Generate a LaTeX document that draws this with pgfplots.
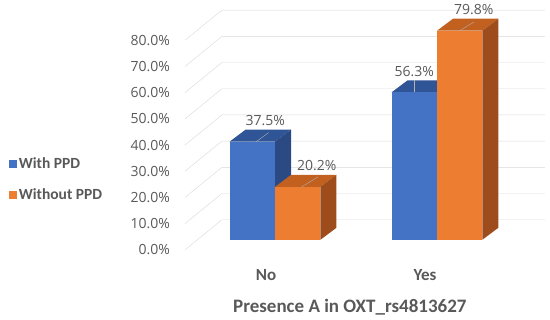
\documentclass[border=0pt]{standalone}
\usepackage{fontspec}
\setmainfont{Carlito}
\newfontfamily\osans{Open Sans}
\usepackage{pgfplots}
\pgfplotsset{compat=1.18}
\definecolor{bfront}{HTML}{4472C4}
\definecolor{btop}{HTML}{2F5597}
\definecolor{bside}{HTML}{2B4A84}
\definecolor{ofront}{HTML}{ED7D31}
\definecolor{otop}{HTML}{C1601F}
\definecolor{oside}{HTML}{9E4C1B}
\definecolor{gridc}{HTML}{D9D9D9}
\definecolor{txt}{HTML}{595959}
\begin{document}
\begin{tikzpicture}
\useasboundingbox (0,0) rectangle (550pt,320pt);
\begin{axis}[
  at={(185pt,67.1pt)}, anchor=south west,
  scale only axis, width=360pt, height=248.9pt,
  xmin=-0.556, xmax=1.667, ymin=-5, ymax=90,
  clip=false,
  axis line style={draw=none},
  major tick length=0pt,
  /pgf/number format/assume math mode=true,
  xtick={-0.056,0.926}, xticklabels={No,Yes},
  xticklabel style={anchor=center, yshift=-22pt, font=\bfseries\fontsize{17}{17}\selectfont, text=txt},
  ytick={-3.83,6.17,16.17,26.17,36.17,46.17,56.17,66.17,76.17},
  yticklabels={0.0\%,10.0\%,20.0\%,30.0\%,40.0\%,50.0\%,60.0\%,70.0\%,80.0\%},
  yticklabel style={anchor=east, inner sep=0pt, xshift=-15pt, font=\osans\fontsize{14}{14}\selectfont, text=txt},
  xlabel={Presence A in OXT\_rs4813627},
  xlabel style={at={(rel axis cs:0.458,0)}, anchor=center, yshift=-54pt, font=\bfseries\fontsize{19}{19}\selectfont, text=txt},
  legend image code/.code={\fill[#1] (0pt,-4pt) rectangle (8pt,4pt);},
  legend cell align=left,
  legend style={at={(rel axis cs:-0.49,0.295)}, anchor=west, draw=none, fill=none, inner sep=0pt,
    row sep=14pt, font=\bfseries\fontsize{15.5}{15.5}\selectfont, text=txt,
    nodes={inner sep=2pt}},
  barlbl/.style={nodes near coords={\pgfmathprintnumber[fixed,fixed zerofill,precision=1]{\pgfplotspointmeta}\%},
    every node near coord/.append style={anchor=center, yshift=21pt, xshift=#1, font=\osans\fontsize{14}{14}\selectfont, text=txt}},
]
% perspective grid lines
\addplot[gridc, forget plot] coordinates {(-0.556,-3.83) (-0.328,7.66) (1.667,7.66)};
\addplot[gridc, forget plot] coordinates {(-0.556,6.17) (-0.328,17.66) (1.667,17.66)};
\addplot[gridc, forget plot] coordinates {(-0.556,16.17) (-0.328,27.66) (1.667,27.66)};
\addplot[gridc, forget plot] coordinates {(-0.556,26.17) (-0.328,37.66) (1.667,37.66)};
\addplot[gridc, forget plot] coordinates {(-0.556,36.17) (-0.328,47.66) (1.667,47.66)};
\addplot[gridc, forget plot] coordinates {(-0.556,46.17) (-0.328,57.66) (1.667,57.66)};
\addplot[gridc, forget plot] coordinates {(-0.556,56.17) (-0.328,67.66) (1.667,67.66)};
\addplot[gridc, forget plot] coordinates {(-0.556,66.17) (-0.328,77.66) (1.667,77.66)};
\addplot[gridc, forget plot] coordinates {(-0.556,76.17) (-0.328,87.66) (1.667,87.66)};
% top and side faces (depth), drawn behind the front faces
\addplot[fill=btop, draw=none, forget plot] coordinates {(-0.28,37.5) (-0.181,42.08) (0.099,42.08) (0,37.5)};
\addplot[fill=bside, draw=none, forget plot] coordinates {(0,0) (0,37.5) (0.099,42.08) (0.099,4.58)};
\addplot[fill=btop, draw=none, forget plot] coordinates {(0.72,56.3) (0.819,60.88) (1.099,60.88) (1,56.3)};
\addplot[fill=bside, draw=none, forget plot] coordinates {(1,0) (1,56.3) (1.099,60.88) (1.099,4.58)};
\addplot[fill=otop, draw=none, forget plot] coordinates {(0,20.2) (0.099,24.78) (0.379,24.78) (0.28,20.2)};
\addplot[fill=oside, draw=none, forget plot] coordinates {(0.28,0) (0.28,20.2) (0.379,24.78) (0.379,4.58)};
\addplot[fill=otop, draw=none, forget plot] coordinates {(1,79.8) (1.099,84.38) (1.379,84.38) (1.28,79.8)};
\addplot[fill=oside, draw=none, forget plot] coordinates {(1.28,0) (1.28,79.8) (1.379,84.38) (1.379,4.58)};
% leader lines from the top faces to the labels
\addplot[gray!60, forget plot] coordinates {(-0.133,36.7) (-0.04,40.9)};
\addplot[gray!60, forget plot] coordinates {(0.154,19.8) (0.265,24.0)};
\addplot[gray!60, forget plot] coordinates {(0.86,56.3) (0.86,60.9)};
\addplot[gray!60, forget plot] coordinates {(1.13,79.4) (1.23,83.2)};
% With PPD front faces
\addplot[ybar, bar width=0.28, bar shift=0, fill=bfront, draw=none, barlbl=13pt]
  coordinates {(-0.14,37.5)};
\addlegendentry{With PPD}
\addplot[ybar, bar width=0.28, bar shift=0, fill=bfront, draw=none, barlbl=0pt, forget plot]
  coordinates {(0.86,56.3)};
% Without PPD front faces
\addplot[ybar, bar width=0.28, bar shift=0, fill=ofront, draw=none, barlbl=19pt]
  coordinates {(0.14,20.2)};
\addlegendentry{Without PPD}
\addplot[ybar, bar width=0.28, bar shift=0, fill=ofront, draw=none, barlbl=14pt, forget plot]
  coordinates {(1.14,79.8)};
\end{axis}
\end{tikzpicture}
\end{document}
